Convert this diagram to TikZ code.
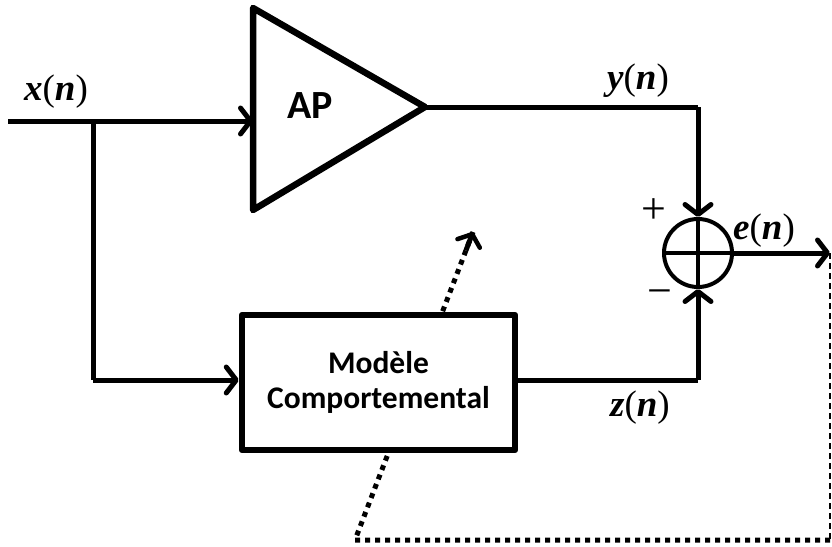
\documentclass[tikz,border=0pt]{standalone}
\usepackage{fontspec}
\setmainfont{Carlito}
\newfontfamily\labfont{Liberation Serif}
\newcommand{\sig}[1]{{\labfont\bfseries\itshape #1}{\labfont(}{\labfont\bfseries\itshape n}{\labfont)}}
\usetikzlibrary{arrows.meta,calc}
\begin{document}
\begin{tikzpicture}[x=1pt,y=-1pt,
  wire/.style={line width=5pt},
  arr/.style={wire,-{Straight Barb[length=10pt,width=26pt,line width=5pt,round]}},
  blockline/.style={line width=6.5pt,line join=round},
  lbl/.style={font=\fontsize{37}{40}\selectfont},
  sgn/.style={font=\labfont\fontsize{44}{46}\selectfont},
  dotline/.style={line width=5pt,dash pattern=on 5pt off 5pt},
  thindash/.style={line width=1.6pt,dash pattern=on 6pt off 4pt}]
\useasboundingbox (0,0) rectangle (832,546);
% coordinates
\coordinate (in) at (8,121);
\coordinate (br) at (93,121);
\coordinate (brd) at (93,380);
\coordinate (t1) at (253,8);
\coordinate (t2) at (253,210);
\coordinate (apex) at (425,107);
\coordinate (yc) at (698,107);
\coordinate (zc) at (698,380);
\coordinate (eout) at (830,253);
\coordinate (fb1) at (830,540);
\coordinate (fb2) at (355,540);
\coordinate (fbtip) at (473,232);
% feedback (behind box)
\draw[thindash] (eout) -- (fb1);
\draw[dotline] (fb1) -- (fb2) -- (fbtip);
\draw[line width=5pt,-{Straight Barb[length=10pt,width=24pt,line width=4.5pt,round]}] ($(fbtip)!0.06!(fb2)$) -- (fbtip);
% amplifier
\draw[blockline,fill=white] (t1) -- (apex) -- (t2) -- cycle;
\node[font=\bfseries\fontsize{40}{42}\selectfont] (ap) at (310,106) {AP};
% model box
\node[draw,blockline,fill=white,minimum width=273pt,minimum height=135pt,inner sep=0pt,
  align=center,font=\bfseries\fontsize{31.5}{35}\selectfont] (mod) at (378.5,382.5)
  {Modèle\\Comportemental};
% summing junction
\node[circle,draw,line width=4pt,minimum size=68pt,inner sep=0pt] (sum) at (698,253) {};
\draw[line width=4pt] (sum.north) -- (sum.south) (sum.west) -- (sum.east);
% connectors
\draw[arr] (in) -- (253,121);
\draw[wire] (br) -- (brd);
\draw[arr] (brd) -- (mod.west |- brd);
\draw[wire] (apex) -- (yc);
\draw[arr] (yc) -- (sum.north);
\draw[wire] (mod.east |- zc) -- (zc);
\draw[arr] (zc) -- (sum.south);
\draw[arr] (sum.east) -- (eout);
% labels
\node[lbl] (lx) at (56,92) {\sig{x}};
\node[lbl] (ly) at (638,81) {\sig{y}};
\node[lbl] (lz) at (640,408) {\sig{z}};
\node[lbl] (le) at (764,231) {\sig{e}};
\node[sgn] (plus) at (654,211) {+};
\node[sgn] (minus) at (660,298) {−};
\end{tikzpicture}
\end{document}
